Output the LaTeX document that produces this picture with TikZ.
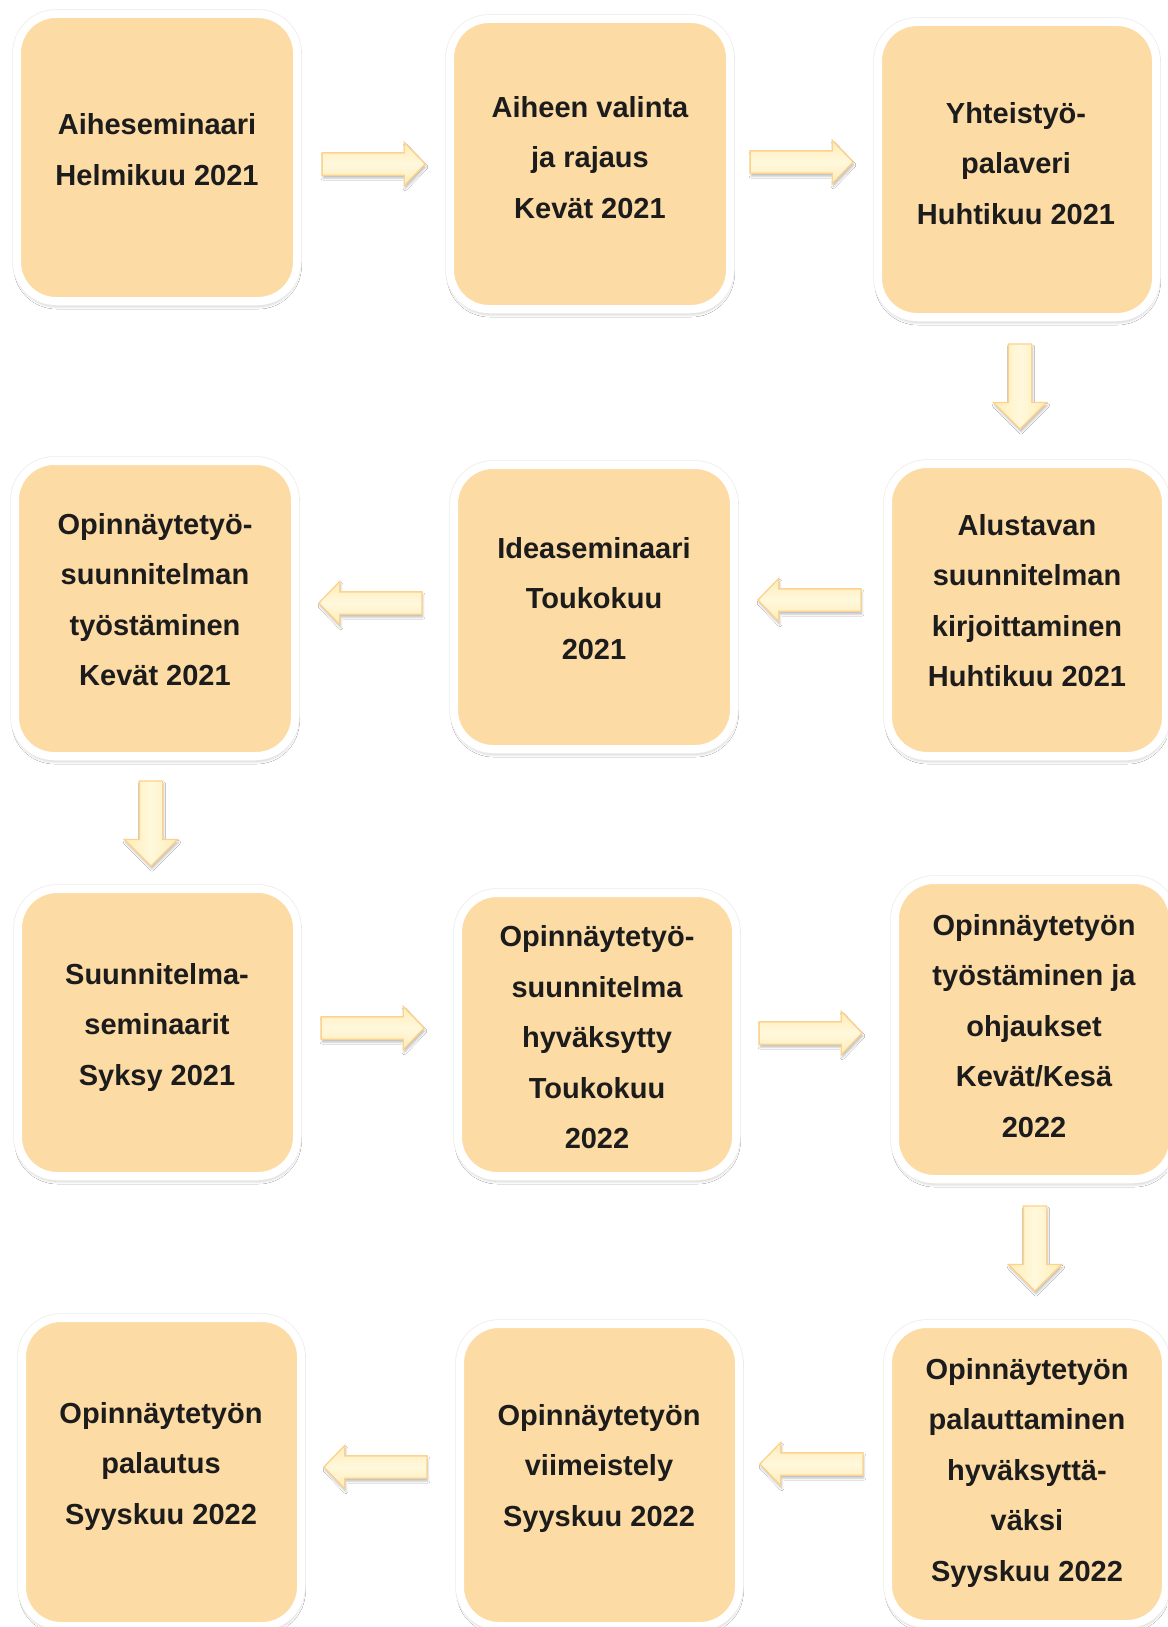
\documentclass[tikz,border=0pt]{standalone}
\usepackage{fontspec}
\setmainfont{Liberation Sans}
\usetikzlibrary{shapes.arrows,shadows.blur}
\definecolor{boxfill}{HTML}{FDDBA4}
\definecolor{arrowedge}{HTML}{FCD28C}
\definecolor{arrowout}{HTML}{FFEDB8}
\definecolor{arrowmid}{HTML}{FFF8DC}
\definecolor{textc}{HTML}{1C1C1C}
\tikzset{
  box/.style n args={2}{rectangle, rounded corners=39pt, inner sep=0pt,
    minimum width=#1pt+8pt, minimum height=#2pt+8pt,
    blur shadow={shadow xshift=0.5pt, shadow yshift=-4pt, shadow blur radius=4pt, shadow opacity=35},
    preaction={draw=gray!15, line width=9.5pt},
    fill=boxfill, draw=white, line width=8pt},
  label/.style={font=\fontsize{29}{50.5}\selectfont\bfseries, text=textc, align=center,
    inner sep=0pt, execute at begin node=\strut, execute at end node=\strut},
  harrow/.style={single arrow, inner sep=0pt, inner ysep=10.5pt, minimum width=42pt,
    single arrow head extend=10.5pt, minimum height=103pt, single arrow tip angle=92,
    anchor=tip, draw=arrowedge, line width=1.3pt,
    top color=arrowout, bottom color=arrowout, middle color=arrowmid,
    blur shadow={shadow xshift=1pt, shadow yshift=-3pt, shadow blur radius=2pt, shadow opacity=25}},
  varrow/.style={single arrow, inner sep=11pt, minimum width=52pt,
    single arrow head extend=15pt, minimum height=85pt, shape border rotate=270,
    anchor=tip, draw=arrowedge, line width=1.3pt,
    left color=arrowout, right color=arrowout, middle color=arrowmid,
    blur shadow={shadow xshift=1pt, shadow yshift=-3pt, shadow blur radius=2pt, shadow opacity=25}}
}
\begin{document}
\begin{tikzpicture}[x=1pt,y=-1pt]
\useasboundingbox[fill=white] (0,0) rectangle (1167,1627);
% boxes
\node[box={272}{279}] (b1) at (157,157.5) {};
\node[box={272}{282}] (b2) at (590,164) {};
\node[box={270}{287}] (b3) at (1017,169.5) {};
\node[box={272}{287}] (b4) at (155,608.5) {};
\node[box={272}{276}] (b5) at (594,607) {};
\node[box={270}{284}] (b6) at (1027,610) {};
\node[box={271}{279}] (b7) at (157.5,1032.5) {};
\node[box={270}{275}] (b8) at (597,1034.5) {};
\node[box={270}{291}] (b9) at (1034,1029.5) {};
\node[box={271}{300}] (b10) at (161.5,1472) {};
\node[box={271}{294}] (b11) at (599.5,1475) {};
\node[box={270}{292}] (b12) at (1027,1474) {};
% texts
\node[label] (t1) at (157,157) {Aiheseminaari\\Helmikuu 2021};
\node[label] (t2) at (590,165) {Aiheen valinta\\ja rajaus\\Kevät 2021};
\node[label] (t3) at (1016,170.6) {Yhteistyö-\\palaveri\\Huhtikuu 2021};
\node[label] (t4) at (155,607) {Opinnäytetyö-\\suunnitelman\\työstäminen\\Kevät 2021};
\node[label] (t5) at (594,606) {Ideaseminaari\\Toukokuu\\2021};
\node[label] (t6) at (1027,608) {Alustavan\\suunnitelman\\kirjoittaminen\\Huhtikuu 2021};
\node[label] (t7) at (157,1032) {Suunnitelma-\\seminaarit\\Syksy 2021};
\node[label] (t8) at (597,1045) {Opinnäytetyö-\\suunnitelma\\hyväksytty\\Toukokuu\\2022};
\node[label] (t9) at (1034,1033.5) {Opinnäytetyön\\työstäminen ja\\ohjaukset\\Kevät/Kesä\\2022};
\node[label] (t10) at (161,1471) {Opinnäytetyön\\palautus\\Syyskuu 2022};
\node[label] (t11) at (599,1473) {Opinnäytetyön\\viimeistely\\Syyskuu 2022};
\node[label] (t12) at (1027,1477.5) {Opinnäytetyön\\palauttaminen\\hyväksyttä-\\väksi\\Syyskuu 2022};
% arrows
\node[harrow] (a1) at (426,164) {};
\node[harrow] (a2) at (854,162) {};
\node[varrow] (d1) at (1020,430) {};
\node[harrow, shape border rotate=180] (a3) at (318,603) {};
\node[harrow, shape border rotate=180] (a4) at (757,600) {};
\node[varrow] (d2) at (151,867) {};
\node[harrow] (a5) at (425,1028) {};
\node[harrow] (a6) at (863,1033) {};
\node[varrow] (d3) at (1035,1292) {};
\node[harrow, shape border rotate=180] (a7) at (323,1467) {};
\node[harrow, shape border rotate=180] (a8) at (759,1464) {};
\end{tikzpicture}
\end{document}
